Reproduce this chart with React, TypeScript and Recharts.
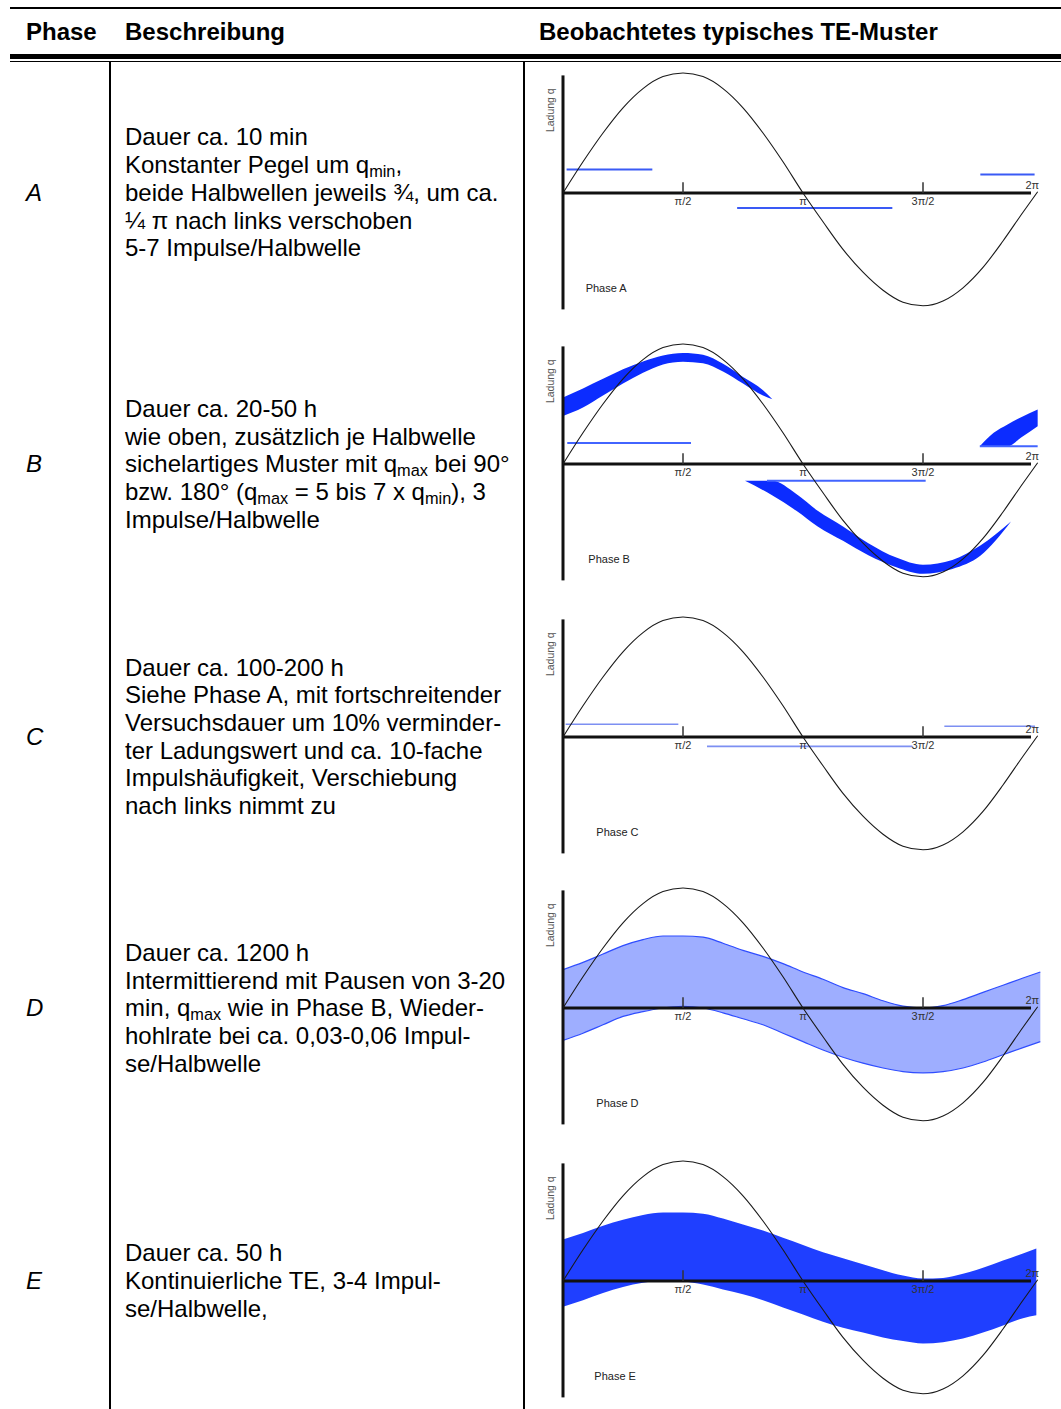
import { ComposedChart, Line, Area, XAxis, YAxis, ReferenceLine, ReferenceDot } from "recharts";

// reference sine wave, q normalised to the positive peak
const sineDeg = [0, 15, 30, 45, 60, 75, 90, 105, 120, 135, 150, 165, 180, 195, 210, 225, 240, 255, 270, 285, 300, 315, 330, 345, 356];
const sineQ = [0, 0.26, 0.5, 0.71, 0.87, 0.97, 1, 0.97, 0.87, 0.71, 0.5, 0.26, 0, -0.24, -0.47, -0.66, -0.81, -0.91, -0.94, -0.9, -0.79, -0.62, -0.4, -0.16, 0.01];

// constant pulse levels: phase angle from / to (deg), charge q
const pulsesA = [
  { from: 2.7, to: 67, q: 0.196 },
  { from: 130.6, to: 247, q: -0.125 },
  { from: 313, to: 353.7, q: 0.154 },
];
const pulsesB = [
  { from: 3.2, to: 96, q: 0.176 },
  { from: 153, to: 272, q: -0.14 },
  { from: 312.6, to: 356, q: 0.147 },
];
const pulsesC = [
  { from: 2, to: 86.5, q: 0.106 },
  { from: 108, to: 262, q: -0.078 },
  { from: 286, to: 354, q: 0.09 },
];

// Phase B sickle patterns
const sickleUpDeg = [0, 15, 30, 45, 60, 75, 90, 105, 120, 135, 150, 157];
const sickleUpLow = [0.4, 0.47, 0.57, 0.67, 0.76, 0.83, 0.853, 0.84, 0.77, 0.67, 0.57, 0.54];
const sickleUpHigh = [0.555, 0.63, 0.71, 0.79, 0.855, 0.905, 0.926, 0.91, 0.835, 0.725, 0.615, 0.54];

const sickleDownDeg = [136.5, 156.8, 175, 191, 210, 229, 250, 270, 292, 313, 336];
const sickleDownLow = [-0.14, -0.26, -0.39, -0.52, -0.64, -0.76, -0.86, -0.915, -0.875, -0.765, -0.48];
const sickleDownHigh = [-0.14, -0.14, -0.25, -0.39, -0.52, -0.66, -0.78, -0.84, -0.8, -0.68, -0.48];

const wedgeDeg = [312.6, 323, 333.4, 343.6, 356];
const wedgeLow = [0.147, 0.147, 0.147, 0.22, 0.315];
const wedgeHigh = [0.147, 0.26, 0.33, 0.39, 0.455];

// Phase D / E bands
const bandDDeg = [0, 15, 30, 45, 60, 75, 90, 105, 120, 135, 150, 165, 180, 195, 210, 225, 240, 255, 270, 285, 300, 315, 330, 345, 358];
const bandDLow = [-0.27, -0.21, -0.14, -0.07, -0.03, 0, 0.013, 0, -0.04, -0.09, -0.14, -0.21, -0.28, -0.35, -0.41, -0.46, -0.5, -0.53, -0.54, -0.53, -0.5, -0.45, -0.39, -0.33, -0.28];
const bandDHigh = [0.32, 0.38, 0.45, 0.52, 0.57, 0.6, 0.6, 0.59, 0.54, 0.48, 0.43, 0.37, 0.3, 0.24, 0.17, 0.12, 0.06, 0.015, 0, 0.02, 0.07, 0.13, 0.19, 0.25, 0.3];

const bandEDeg = [0, 15, 30, 45, 60, 75, 90, 105, 120, 135, 150, 165, 180, 195, 210, 225, 240, 255, 270, 285, 300, 315, 330, 345, 355];
const bandELow = [-0.215, -0.16, -0.1, -0.05, -0.015, 0, -0.005, -0.03, -0.07, -0.11, -0.16, -0.22, -0.28, -0.34, -0.39, -0.43, -0.47, -0.5, -0.52, -0.51, -0.48, -0.43, -0.37, -0.31, -0.285];
const bandEHigh = [0.345, 0.4, 0.46, 0.51, 0.55, 0.57, 0.57, 0.56, 0.52, 0.47, 0.42, 0.36, 0.3, 0.24, 0.19, 0.14, 0.09, 0.045, 0.02, 0.025, 0.06, 0.11, 0.17, 0.23, 0.27];

const sineData = sineDeg.map((deg, i) => ({ deg, q: sineQ[i] }));
const toBand = (deg: number[], lo: number[], hi: number[]) => deg.map((d, i) => ({ deg: d, range: [lo[i], hi[i]] }));

type Pulse = { from: number; to: number; q: number };
type Band = { data: { deg: number; range: number[] }[]; fill: string; stroke: string };

const CHART_W = 537;
const CHART_H = 264;

function PhaseChart({ name, nameAt = 17, axisY, pulses = [], pulseColor = "#3a5af5", pulseWidth = 1.8, bands = [] }:
  { name: string; nameAt?: number; axisY: number; pulses?: Pulse[]; pulseColor?: string; pulseWidth?: number; bands?: Band[] }) {
  return (
    <div style={{ position: "absolute", left: 524, top: axisY - CHART_H / 2, width: CHART_W, height: CHART_H }}>
      <ComposedChart width={CHART_W} height={CHART_H} margin={{ top: 0, right: 18, bottom: 0, left: 39 }}>
        <XAxis type="number" dataKey="deg" domain={[0, 360]} hide allowDataOverflow />
        <YAxis type="number" domain={[-1.1, 1.1]} hide allowDataOverflow />
        {bands.map((b, i) => (
          <Area key={i} data={b.data} dataKey="range" type="monotone" fill={b.fill} fillOpacity={1}
            stroke={b.stroke} strokeWidth={1.2} isAnimationActive={false} />
        ))}
        {pulses.map((p, i) => (
          <ReferenceLine key={i} segment={[{ x: p.from, y: p.q }, { x: p.to, y: p.q }]} stroke={pulseColor} strokeWidth={pulseWidth} />
        ))}
        <ReferenceLine segment={[{ x: 0, y: 0 }, { x: 351, y: 0 }]} stroke="#111" strokeWidth={3} />
        <ReferenceLine segment={[{ x: 0, y: -0.97 }, { x: 0, y: 0.98 }]} stroke="#111" strokeWidth={3} />
        <ReferenceLine segment={[{ x: 90, y: 0 }, { x: 90, y: 0.09 }]} stroke="#333" strokeWidth={1.5} />
        <ReferenceLine segment={[{ x: 270, y: 0 }, { x: 270, y: 0.09 }]} stroke="#333" strokeWidth={1.5} />
        <Line data={sineData} dataKey="q" type="monotone" stroke="#1a1a1a" strokeWidth={1.1} dot={false} isAnimationActive={false} />
        <ReferenceDot x={90} y={0} r={0} stroke="none" label={{ value: "π/2", position: "bottom", offset: 4, fontSize: 11, fill: "#333" }} />
        <ReferenceDot x={180} y={0} r={0} stroke="none" label={{ value: "π", position: "bottom", offset: 4, fontSize: 11, fill: "#333" }} />
        <ReferenceDot x={270} y={0} r={0} stroke="none" label={{ value: "3π/2", position: "bottom", offset: 4, fontSize: 11, fill: "#333" }} />
        <ReferenceDot x={352} y={0} r={0} stroke="none" label={{ value: "2π", position: "top", offset: 4, fontSize: 11, fill: "#333" }} />
        <ReferenceDot x={-9.75} y={0.69} r={0} stroke="none" ifOverflow="visible"
          label={{ value: "Ladung q", position: "center", angle: -90, fontSize: 10.5, fill: "#555" }} />
        <ReferenceDot x={nameAt} y={-0.79} r={0} stroke="none"
          label={{ value: name, position: "right", offset: 0, fontSize: 11, fill: "#222" }} />
      </ComposedChart>
    </div>
  );
}

const Sub = ({ children }: { children: string }) => (
  <span style={{ fontSize: "0.68em", lineHeight: 0, position: "relative", top: "0.22em" }}>{children}</span>
);

const LINE_H = 27.7;
const FONT = 24;

function Row({ letter, axisY, lines }: { letter: string; axisY: number; lines: React.ReactNode[] }) {
  return (
    <>
      <div style={{ position: "absolute", left: 26, top: axisY - 14, fontSize: FONT, lineHeight: "28px", fontStyle: "italic" }}>{letter}</div>
      <div style={{ position: "absolute", left: 125, top: axisY - (lines.length * LINE_H) / 2, fontSize: FONT, lineHeight: `${LINE_H}px`, whiteSpace: "nowrap" }}>
        {lines.map((l, i) => <div key={i} style={{ height: LINE_H }}>{l}</div>)}
      </div>
    </>
  );
}

export default function App() {
  const axes = [192.7, 464.3, 736.7, 1008.3, 1281];
  return (
    <div style={{ position: "absolute", left: 0, top: 0, width: 1061, height: 1409, overflow: "hidden", background: "#fff", color: "#000",
      fontFamily: '"Liberation Sans", Arial, sans-serif' }}>
      <div style={{ position: "absolute", left: 10, top: 7, width: 1051, height: 2, background: "#000" }} />
      <div style={{ position: "absolute", left: 26, top: 18, fontSize: FONT, lineHeight: "28px", fontWeight: 700 }}>Phase</div>
      <div style={{ position: "absolute", left: 125, top: 18, fontSize: FONT, lineHeight: "28px", fontWeight: 700 }}>Beschreibung</div>
      <div style={{ position: "absolute", left: 539, top: 18, fontSize: FONT, lineHeight: "28px", fontWeight: 700 }}>Beobachtetes typisches TE-Muster</div>
      <div style={{ position: "absolute", left: 10, top: 54.3, width: 1051, height: 4.4, background: "#000" }} />
      <div style={{ position: "absolute", left: 10, top: 60.5, width: 1051, height: 1.5, background: "#000" }} />
      <div style={{ position: "absolute", left: 109.3, top: 61, width: 2, height: 1348, background: "#000" }} />
      <div style={{ position: "absolute", left: 523.3, top: 61, width: 2, height: 1348, background: "#000" }} />

      <Row letter="A" axisY={axes[0]} lines={[
        "Dauer ca. 10 min",
        <>Konstanter Pegel um q<Sub>min</Sub>,</>,
        "beide Halbwellen jeweils ¾, um ca.",
        "¼ π nach links verschoben",
        "5-7 Impulse/Halbwelle",
      ]} />
      <Row letter="B" axisY={axes[1]} lines={[
        "Dauer ca. 20-50 h",
        "wie oben, zusätzlich je Halbwelle",
        <>sichelartiges Muster mit q<Sub>max</Sub> bei 90°</>,
        <>bzw. 180° (q<Sub>max</Sub> = 5 bis 7 x q<Sub>min</Sub>), 3</>,
        "Impulse/Halbwelle",
      ]} />
      <Row letter="C" axisY={axes[2]} lines={[
        "Dauer ca. 100-200 h",
        "Siehe Phase A, mit fortschreitender",
        "Versuchsdauer um 10% verminder-",
        "ter Ladungswert und ca. 10-fache",
        "Impulshäufigkeit, Verschiebung",
        "nach links nimmt zu",
      ]} />
      <Row letter="D" axisY={axes[3]} lines={[
        "Dauer ca. 1200 h",
        "Intermittierend mit Pausen von 3-20",
        <>min, q<Sub>max</Sub> wie in Phase B, Wieder-</>,
        "hohlrate bei ca. 0,03-0,06 Impul-",
        "se/Halbwelle",
      ]} />
      <Row letter="E" axisY={axes[4]} lines={[
        "Dauer ca. 50 h",
        "Kontinuierliche TE, 3-4 Impul-",
        "se/Halbwelle,",
      ]} />

      <PhaseChart name="Phase A" nameAt={17} axisY={axes[0]} pulses={pulsesA} />
      <PhaseChart name="Phase B" nameAt={19} axisY={axes[1]} pulses={pulsesB} pulseColor="#4264ff" pulseWidth={2}
        bands={[
          { data: toBand(sickleUpDeg, sickleUpLow, sickleUpHigh), fill: "#0c2cff", stroke: "none" },
          { data: toBand(sickleDownDeg, sickleDownLow, sickleDownHigh), fill: "#0c2cff", stroke: "none" },
          { data: toBand(wedgeDeg, wedgeLow, wedgeHigh), fill: "#0c2cff", stroke: "none" },
        ]} />
      <PhaseChart name="Phase C" nameAt={25} axisY={axes[2]} pulses={pulsesC} pulseColor="#7d8ff2" pulseWidth={1.6} />
      <PhaseChart name="Phase D" nameAt={25} axisY={axes[3]}
        bands={[{ data: toBand(bandDDeg, bandDLow, bandDHigh), fill: "#9eaeff", stroke: "#2f4dff" }]} />
      <PhaseChart name="Phase E" nameAt={23.5} axisY={axes[4]}
        bands={[{ data: toBand(bandEDeg, bandELow, bandEHigh), fill: "#1f3fff", stroke: "none" }]} />
    </div>
  );
}
